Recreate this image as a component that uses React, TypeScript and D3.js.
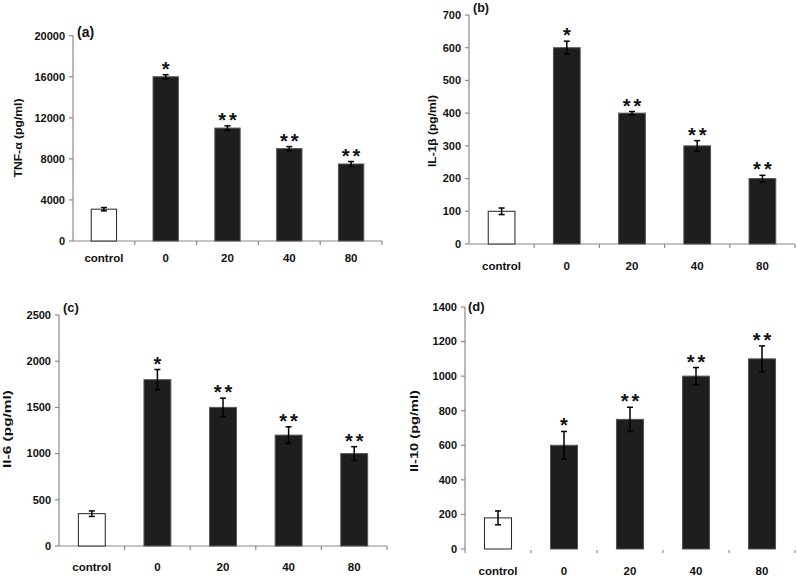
import React from "react";
import * as d3 from "d3";

const categories = ["control", "0", "20", "40", "80"];
const stars = ["", "*", "**", "**", "**"];

const tnfValues = [3100, 16000, 11000, 9000, 7500];
const tnfErrors = [160, 200, 220, 200, 240];
const tnfTicks = [0, 4000, 8000, 12000, 16000, 20000];

const il1bValues = [100, 600, 400, 300, 200];
const il1bErrors = [10, 20, 5, 16, 10];
const il1bTicks = [0, 100, 200, 300, 400, 500, 600, 700];

const il6Values = [350, 1800, 1500, 1200, 1000];
const il6Errors = [30, 110, 100, 90, 75];
const il6Ticks = [0, 500, 1000, 1500, 2000, 2500];

const il10Values = [180, 600, 750, 1000, 1100];
const il10Errors = [40, 80, 70, 50, 75];
const il10Ticks = [0, 200, 400, 600, 800, 1000, 1200, 1400];

const panels = [
  { tag: "(a)", yLabel: "TNF-α (pg/ml)", values: tnfValues, errors: tnfErrors, ticks: tnfTicks,
    L: { ax: 73, xEnd: 382, y0: 241, yTop: 35.7, tagX: 77, tagY: 37, tagSize: 14, xlY: 262, ylX: 18, ylY: 138, ylLen: 79, xAxis: true } },
  { tag: "(b)", yLabel: "IL-1β (pg/ml)", values: il1bValues, errors: il1bErrors, ticks: il1bTicks,
    L: { ax: 469, xEnd: 795, y0: 244, yTop: 15, tagX: 473, tagY: 12, tagSize: 12.5, xlY: 270, ylX: 432, ylY: 131, ylLen: 72, xAxis: true } },
  { tag: "(c)", yLabel: "Il-6 (pg/ml)", values: il6Values, errors: il6Errors, ticks: il6Ticks,
    L: { ax: 59, xEnd: 387, y0: 546, yTop: 315, tagX: 63, tagY: 312, tagSize: 13, xlY: 571, ylX: 7, ylY: 429, ylLen: 78, xAxis: true } },
  { tag: "(d)", yLabel: "Il-10 (pg/ml)", values: il10Values, errors: il10Errors, ticks: il10Ticks,
    L: { ax: 465, xEnd: 795, y0: 549, yTop: 307, tagX: 468, tagY: 311, tagSize: 13, xlY: 575, ylX: 414, ylY: 431, ylLen: 82, xAxis: false } },
];

const FONT = "'Liberation Sans', Arial, sans-serif";
const AXIS = "#8a8a8a";

function Panel({ p }: { p: any }) {
  const L = p.L;
  const x = d3.scaleBand<string>().domain(categories).range([L.ax, L.xEnd]).paddingInner(0.59).paddingOuter(0.295);
  const y = d3.scaleLinear().domain([0, p.ticks[p.ticks.length - 1]]).range([L.y0, L.yTop]);
  const step = x.step();
  const bw = x.bandwidth();
  return (
    <g>
      <line x1={L.ax} x2={L.ax} y1={y(p.ticks[p.ticks.length - 1])} y2={L.xAxis ? L.y0 : L.y0 + 4} stroke={AXIS} strokeWidth={1.2} />
      {p.ticks.map((t: number) => (
        <g key={t}>
          <line x1={L.ax - 4} x2={L.ax} y1={y(t)} y2={y(t)} stroke={AXIS} strokeWidth={1.2} />
          <text x={L.ax - 8} y={y(t)} dy="0.35em" textAnchor="end" fontFamily={FONT} fontWeight="bold" fontSize={11} fill="#111">
            {t}
          </text>
        </g>
      ))}
      {L.xAxis && <line x1={L.ax} x2={L.xEnd} y1={L.y0} y2={L.y0} stroke={AXIS} strokeWidth={1.2} />}
      {categories.map((c, i) => (
        <line key={"xt" + c} x1={L.ax + step * (i + 1)} x2={L.ax + step * (i + 1)} y1={L.y0 + (L.xAxis ? 0 : 1)} y2={L.y0 + 4} stroke={AXIS} strokeWidth={1.2} />
      ))}
      {categories.map((c) => (
        <text key={"xl" + c} x={(x(c) as number) + bw / 2} y={L.xlY} textAnchor="middle" fontFamily={FONT} fontWeight="bold" fontSize={11.5} fill="#111">
          {c}
        </text>
      ))}
      {categories.map((c, i) => {
        const v = p.values[i];
        const e = p.errors[i];
        const cx = (x(c) as number) + bw / 2;
        const ctrl = i === 0;
        return (
          <g key={"b" + c}>
            <rect x={x(c)} y={y(v)} width={bw} height={L.y0 - y(v)} fill={ctrl ? "#fff" : "#1e1e1e"} stroke={ctrl ? "#222" : "#555"} strokeWidth={1} />
            <line x1={cx} x2={cx} y1={y(v + e)} y2={y(v - e)} stroke="#000" strokeWidth={1.5} />
            <line x1={cx - 3} x2={cx + 3} y1={y(v + e)} y2={y(v + e)} stroke="#000" strokeWidth={1.5} />
            <line x1={cx - 3} x2={cx + 3} y1={y(v - e)} y2={y(v - e)} stroke="#000" strokeWidth={1.5} />
            {stars[i] && (
              <text x={cx + (stars[i].length > 1 ? 1.5 : 0)} y={y(v + e) + 1} textAnchor="middle" fontFamily={FONT} fontWeight="bold" fontSize={20} letterSpacing={stars[i].length > 1 ? 3 : 0} fill="#111">
                {stars[i]}
              </text>
            )}
          </g>
        );
      })}
      <text x={L.tagX} y={L.tagY} fontFamily={FONT} fontWeight="bold" fontSize={L.tagSize} fill="#111">
        {p.tag}
      </text>
      <text transform={`translate(${L.ylX},${L.ylY}) rotate(-90)`} textAnchor="middle" dy="0.35em" fontFamily={FONT} fontWeight="bold" fontSize={11} textLength={L.ylLen} lengthAdjust="spacingAndGlyphs" fill="#111">
        {p.yLabel}
      </text>
    </g>
  );
}

export default function App() {
  return (
    <svg width={797} height={576} style={{ position: "absolute", left: 0, top: 0, background: "#fff" }}>
      <rect width={797} height={576} fill="#fff" />
      {panels.map((p) => (
        <Panel key={p.tag} p={p} />
      ))}
    </svg>
  );
}
